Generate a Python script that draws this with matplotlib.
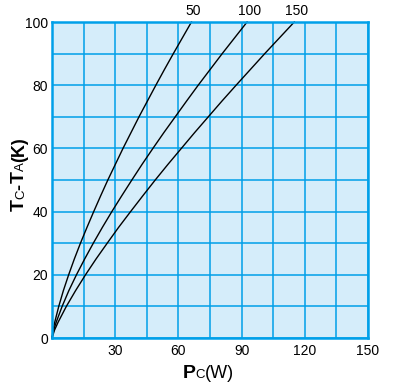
import matplotlib
matplotlib.use("Agg")
import matplotlib.pyplot as plt

plt.rcParams['font.family'] = ['Liberation Sans', 'DejaVu Sans']

# Data (Tc-Ta in K vs Pc in W), one curve per label
temp_rise = [0, 2.5, 5, 10, 15, 20, 25, 30, 35, 40, 45, 50,
             55, 60, 65, 70, 75, 80, 85, 90, 95, 100]
power_50 = [0, 0.5, 1.3, 3.2, 5.4, 7.9, 10.6, 13.5, 16.6, 19.8, 23.1, 26.5,
            30.1, 33.7, 37.5, 41.3, 45.3, 49.3, 53.4, 57.6, 61.9, 66.2]
power_100 = [0, 0.8, 2.0, 4.8, 8.0, 11.6, 15.5, 19.6, 23.9, 28.4, 33.1, 37.9,
             42.8, 47.9, 53.1, 58.5, 63.9, 69.4, 75.1, 80.8, 86.7, 92.6]
power_150 = [0, 1.2, 2.9, 6.8, 11.2, 15.9, 20.9, 26.2, 31.6, 37.3, 43.1, 49.0,
             55.1, 61.4, 67.7, 74.2, 80.7, 87.4, 94.2, 101.0, 108.0, 115.0]
curve_labels = ["50", "100", "150"]
x_ticks = [0, 30, 60, 90, 120, 150]
x_tick_labels = ["", "30", "60", "90", "120", "150"]
y_ticks = [0, 20, 40, 60, 80, 100]
y_tick_labels = ["0", "20", "40", "60", "80", "100"]

W, H = 394, 387
fig = plt.figure(figsize=(W / 100, H / 100), dpi=100)
ax = fig.add_axes([52 / W, (H - 338) / H, (368 - 52) / W, (338 - 22) / H])

blue = '#00a0e9'
ax.set_facecolor('#d5edfa')
ax.set_xlim(0, 150)
ax.set_ylim(0, 100)
ax.set_xticks(x_ticks)
ax.set_xticklabels(x_tick_labels)
ax.set_xticks(list(range(15, 150, 30)), minor=True)
ax.set_yticks(y_ticks)
ax.set_yticklabels(y_tick_labels)
ax.set_yticks(list(range(10, 100, 20)), minor=True)
ax.tick_params(which='both', length=0, labelsize=10, colors='black')
ax.tick_params(axis='x', pad=4)
ax.tick_params(axis='y', pad=3)
ax.grid(True, which='both', color=blue, linewidth=1.1)
ax.set_axisbelow(True)
for sp in ax.spines.values():
    sp.set_color(blue)
    sp.set_linewidth(1.8)

for xs, lab in zip([power_50, power_100, power_150], curve_labels):
    ax.plot(xs, temp_rise, color='black', linewidth=1.0, clip_on=False)
    ax.annotate(lab, xy=(xs[-1], temp_rise[-1]), xytext=(2, 4),
                textcoords='offset pixels', ha='center', va='bottom',
                fontsize=10, annotation_clip=False)

# Composite axis labels with small letters
fig.canvas.draw()
renderer = fig.canvas.get_renderer()


def compose(pieces, x0, y0, rotation):
    pos = 0.0
    for txt, size, weight in pieces:
        if rotation == 0:
            t = fig.text(x0 + pos, y0, txt, fontsize=size, fontweight=weight,
                         ha='left', va='baseline', transform=None)
        else:
            t = fig.text(x0, y0 + pos, txt, fontsize=size, fontweight=weight,
                         ha='left', va='baseline', rotation=90,
                         rotation_mode='anchor', transform=None)
        bb = t.get_window_extent(renderer)
        pos += bb.width if rotation == 0 else bb.height


xl = [("P", 14, 'bold'), ("C", 9.5, 'normal'), ("(W)", 13, 'normal')]
yl = [("T", 14, 'bold'), ("C", 9.5, 'normal'), ("-", 13, 'bold'),
      ("T", 14, 'bold'), ("A", 9.5, 'normal'), ("(K)", 13, 'bold')]
compose(xl, 183, H - 378, 0)
compose(yl, 24, H - 211, 90)

fig.savefig('out.png', dpi=100)
